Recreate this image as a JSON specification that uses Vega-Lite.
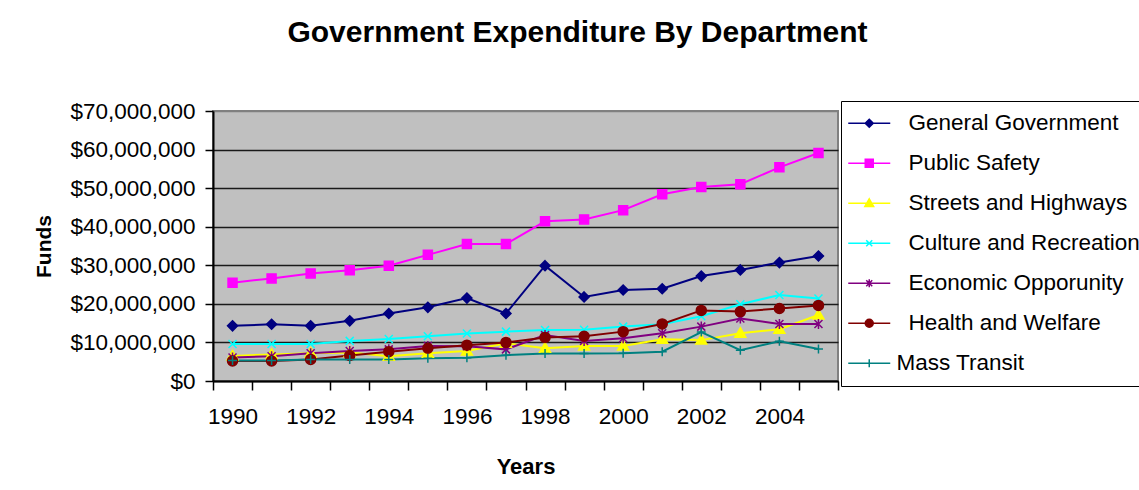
{
  "$schema": "https://vega.github.io/schema/vega-lite/v6.json",
  "width": 625,
  "height": 270,
  "autosize": "none",
  "padding": {"left": 213, "top": 111, "right": 301, "bottom": 109},
  "background": "white",
  "title": {
    "text": "Government Expenditure By Department",
    "font": "Liberation Sans",
    "fontSize": 30,
    "fontWeight": "bold",
    "color": "black",
    "anchor": "middle",
    "frame": "group",
    "dx": 52,
    "baseline": "alphabetic",
    "offset": 28
  },
  "config": {
    "view": {"fill": "#C0C0C0", "stroke": "#808080", "strokeWidth": 2},
    "axis": {"labelFont": "Liberation Sans", "titleFont": "Liberation Sans", "labelColor": "black", "titleColor": "black"}
  },
  "data": {
    "values": [
      {"year": 1990, "series": "General Government", "value": 14300000},
      {"year": 1991, "series": "General Government", "value": 14700000},
      {"year": 1992, "series": "General Government", "value": 14300000},
      {"year": 1993, "series": "General Government", "value": 15600000},
      {"year": 1994, "series": "General Government", "value": 17500000},
      {"year": 1995, "series": "General Government", "value": 19100000},
      {"year": 1996, "series": "General Government", "value": 21500000},
      {"year": 1997, "series": "General Government", "value": 17500000},
      {"year": 1998, "series": "General Government", "value": 29900000},
      {"year": 1999, "series": "General Government", "value": 21800000},
      {"year": 2000, "series": "General Government", "value": 23600000},
      {"year": 2001, "series": "General Government", "value": 23900000},
      {"year": 2002, "series": "General Government", "value": 27200000},
      {"year": 2003, "series": "General Government", "value": 28800000},
      {"year": 2004, "series": "General Government", "value": 30700000},
      {"year": 2005, "series": "General Government", "value": 32400000},
      {"year": 1990, "series": "Public Safety", "value": 25500000},
      {"year": 1991, "series": "Public Safety", "value": 26600000},
      {"year": 1992, "series": "Public Safety", "value": 27900000},
      {"year": 1993, "series": "Public Safety", "value": 28700000},
      {"year": 1994, "series": "Public Safety", "value": 29900000},
      {"year": 1995, "series": "Public Safety", "value": 32700000},
      {"year": 1996, "series": "Public Safety", "value": 35500000},
      {"year": 1997, "series": "Public Safety", "value": 35500000},
      {"year": 1998, "series": "Public Safety", "value": 41400000},
      {"year": 1999, "series": "Public Safety", "value": 41900000},
      {"year": 2000, "series": "Public Safety", "value": 44300000},
      {"year": 2001, "series": "Public Safety", "value": 48400000},
      {"year": 2002, "series": "Public Safety", "value": 50300000},
      {"year": 2003, "series": "Public Safety", "value": 51000000},
      {"year": 2004, "series": "Public Safety", "value": 55400000},
      {"year": 2005, "series": "Public Safety", "value": 59100000},
      {"year": 1990, "series": "Streets and Highways", "value": 6500000},
      {"year": 1991, "series": "Streets and Highways", "value": 6900000},
      {"year": 1992, "series": "Streets and Highways", "value": 7200000},
      {"year": 1993, "series": "Streets and Highways", "value": 7400000},
      {"year": 1994, "series": "Streets and Highways", "value": 6400000},
      {"year": 1995, "series": "Streets and Highways", "value": 7200000},
      {"year": 1996, "series": "Streets and Highways", "value": 7800000},
      {"year": 1997, "series": "Streets and Highways", "value": 9800000},
      {"year": 1998, "series": "Streets and Highways", "value": 8500000},
      {"year": 1999, "series": "Streets and Highways", "value": 9100000},
      {"year": 2000, "series": "Streets and Highways", "value": 9100000},
      {"year": 2001, "series": "Streets and Highways", "value": 10800000},
      {"year": 2002, "series": "Streets and Highways", "value": 10600000},
      {"year": 2003, "series": "Streets and Highways", "value": 12400000},
      {"year": 2004, "series": "Streets and Highways", "value": 13400000},
      {"year": 2005, "series": "Streets and Highways", "value": 17100000},
      {"year": 1990, "series": "Culture and Recreation", "value": 9600000},
      {"year": 1991, "series": "Culture and Recreation", "value": 9600000},
      {"year": 1992, "series": "Culture and Recreation", "value": 9600000},
      {"year": 1993, "series": "Culture and Recreation", "value": 10400000},
      {"year": 1994, "series": "Culture and Recreation", "value": 10900000},
      {"year": 1995, "series": "Culture and Recreation", "value": 11600000},
      {"year": 1996, "series": "Culture and Recreation", "value": 12300000},
      {"year": 1997, "series": "Culture and Recreation", "value": 12800000},
      {"year": 1998, "series": "Culture and Recreation", "value": 13200000},
      {"year": 1999, "series": "Culture and Recreation", "value": 13300000},
      {"year": 2000, "series": "Culture and Recreation", "value": 14100000},
      {"year": 2001, "series": "Culture and Recreation", "value": 14700000},
      {"year": 2002, "series": "Culture and Recreation", "value": 16800000},
      {"year": 2003, "series": "Culture and Recreation", "value": 19900000},
      {"year": 2004, "series": "Culture and Recreation", "value": 22300000},
      {"year": 2005, "series": "Culture and Recreation", "value": 21400000},
      {"year": 1990, "series": "Economic Opporunity", "value": 6100000},
      {"year": 1991, "series": "Economic Opporunity", "value": 6400000},
      {"year": 1992, "series": "Economic Opporunity", "value": 7200000},
      {"year": 1993, "series": "Economic Opporunity", "value": 7800000},
      {"year": 1994, "series": "Economic Opporunity", "value": 8200000},
      {"year": 1995, "series": "Economic Opporunity", "value": 9100000},
      {"year": 1996, "series": "Economic Opporunity", "value": 9000000},
      {"year": 1997, "series": "Economic Opporunity", "value": 8200000},
      {"year": 1998, "series": "Economic Opporunity", "value": 11900000},
      {"year": 1999, "series": "Economic Opporunity", "value": 10400000},
      {"year": 2000, "series": "Economic Opporunity", "value": 11100000},
      {"year": 2001, "series": "Economic Opporunity", "value": 12400000},
      {"year": 2002, "series": "Economic Opporunity", "value": 14100000},
      {"year": 2003, "series": "Economic Opporunity", "value": 16200000},
      {"year": 2004, "series": "Economic Opporunity", "value": 14800000},
      {"year": 2005, "series": "Economic Opporunity", "value": 14800000},
      {"year": 1990, "series": "Health and Welfare", "value": 5200000},
      {"year": 1991, "series": "Health and Welfare", "value": 5200000},
      {"year": 1992, "series": "Health and Welfare", "value": 5600000},
      {"year": 1993, "series": "Health and Welfare", "value": 6600000},
      {"year": 1994, "series": "Health and Welfare", "value": 7600000},
      {"year": 1995, "series": "Health and Welfare", "value": 8500000},
      {"year": 1996, "series": "Health and Welfare", "value": 9300000},
      {"year": 1997, "series": "Health and Welfare", "value": 10000000},
      {"year": 1998, "series": "Health and Welfare", "value": 11300000},
      {"year": 1999, "series": "Health and Welfare", "value": 11600000},
      {"year": 2000, "series": "Health and Welfare", "value": 12800000},
      {"year": 2001, "series": "Health and Welfare", "value": 14800000},
      {"year": 2002, "series": "Health and Welfare", "value": 18300000},
      {"year": 2003, "series": "Health and Welfare", "value": 18000000},
      {"year": 2004, "series": "Health and Welfare", "value": 18800000},
      {"year": 2005, "series": "Health and Welfare", "value": 19600000},
      {"year": 1990, "series": "Mass Transit", "value": 5300000},
      {"year": 1991, "series": "Mass Transit", "value": 5300000},
      {"year": 1992, "series": "Mass Transit", "value": 5600000},
      {"year": 1993, "series": "Mass Transit", "value": 5600000},
      {"year": 1994, "series": "Mass Transit", "value": 5600000},
      {"year": 1995, "series": "Mass Transit", "value": 5900000},
      {"year": 1996, "series": "Mass Transit", "value": 6000000},
      {"year": 1997, "series": "Mass Transit", "value": 6700000},
      {"year": 1998, "series": "Mass Transit", "value": 7100000},
      {"year": 1999, "series": "Mass Transit", "value": 7100000},
      {"year": 2000, "series": "Mass Transit", "value": 7200000},
      {"year": 2001, "series": "Mass Transit", "value": 7600000},
      {"year": 2002, "series": "Mass Transit", "value": 12700000},
      {"year": 2003, "series": "Mass Transit", "value": 8000000},
      {"year": 2004, "series": "Mass Transit", "value": 10300000},
      {"year": 2005, "series": "Mass Transit", "value": 8300000}
    ]
  },
  "encoding": {
    "x": {
      "field": "year",
      "type": "ordinal",
      "scale": {"type": "band", "paddingInner": 0, "paddingOuter": 0},
      "axis": {
        "title": "Years",
        "titleFontSize": 22,
        "titleFontWeight": "bold",
        "titleY": 92,
        "titleBaseline": "alphabetic",
        "labelFontSize": 22.5,
        "labelAngle": 0,
        "labelPadding": 15,
        "labelOverlap": false,
        "labelExpr": "datum.value % 2 == 0 ? datum.label : ''",
        "tickBand": "extent",
        "tickSize": 9,
        "tickColor": "black",
        "tickWidth": 1.5,
        "domainColor": "black",
        "domainWidth": 2,
        "grid": false
      }
    },
    "y": {
      "field": "value",
      "type": "quantitative",
      "scale": {"domain": [0, 70000000], "nice": false},
      "axis": {
        "title": "Funds",
        "titleFontSize": 21,
        "titleFontWeight": "bold",
        "titleAngle": -90,
        "titleX": -169,
        "titleY": 135,
        "titleAlign": "center",
        "titleBaseline": "middle",
        "format": "$,.0f",
        "values": [0, 10000000, 20000000, 30000000, 40000000, 50000000, 60000000, 70000000],
        "labelFontSize": 22.5,
        "labelPadding": 10,
        "tickSize": 8,
        "tickColor": "black",
        "tickWidth": 1.5,
        "domainColor": "black",
        "domainWidth": 2,
        "grid": true,
        "gridColor": {"condition": {"test": "datum.value >= 70000000", "value": "#808080"}, "value": "#1a1a1a"},
        "gridWidth": 1.6
      }
    },
    "color": {
      "field": "series",
      "type": "nominal",
      "scale": {
        "domain": ["General Government", "Public Safety", "Streets and Highways", "Culture and Recreation", "Economic Opporunity", "Health and Welfare", "Mass Transit"],
        "range": ["#000080", "#FF00FF", "#FFFF00", "#00FFFF", "#800080", "#800000", "#008080"]
      },
      "legend": {
        "orient": "none",
        "legendX": 628,
        "legendY": -10,
        "title": null,
        "strokeColor": "black",
        "fillColor": "white",
        "padding": 11,
        "labelFont": "Liberation Sans",
        "labelFontSize": 22.5,
        "labelColor": "black",
        "labelLimit": 400,
        "rowPadding": 17,
        "symbolSize": 64,
        "symbolStrokeWidth": 1.5,
        "labelOffset": 34,
        "encode": {
          "labels": {
            "update": {
              "dx": {"signal": "datum.value === 'Mass Transit' ? -12 : 0"}
            }
          },
          "symbols": {
            "update": {
              "shape": {"signal": "({'General Government':'M-3.75,0H6.75M1.5,-1L2.5,0L1.5,1L0.5,0Z','Public Safety':'M-3.75,0H6.75M0.5,-1H2.5V1H0.5Z','Streets and Highways':'M-3.75,0H6.75M1.5,-1.1L2.6,0.8H0.4Z','Culture and Recreation':'M-3.75,0H6.75M0.75,-0.75L2.25,0.75M0.75,0.75L2.25,-0.75','Economic Opporunity':'M-3.75,0H6.75M0.75,-0.75L2.25,0.75M0.75,0.75L2.25,-0.75M1.5,-1V1','Health and Welfare':'M-3.75,0H6.75M2.5,0A1,1,0,1,1,0.5,0A1,1,0,1,1,2.5,0Z','Mass Transit':'M-3.75,0H6.75M1.5,-1V1'})[datum.value]"},
              "fill": {"scale": "color", "field": "value"},
              "stroke": {"scale": "color", "field": "value"},
              "strokeWidth": {"value": 1.5},
              "opacity": {"value": 1},
              "fillOpacity": {"value": 1}
            }
          }
        }
      }
    }
  },
  "layer": [
    {"mark": {"type": "line", "strokeWidth": 2}},
    {"transform": [{"filter": "datum.series == 'General Government'"}], "mark": {"type": "point", "filled": true, "size": 100, "strokeWidth": 1.5, "opacity": 1, "shape": "M0,-1L1,0L0,1L-1,0Z", "stroke": "#000080"}},
    {"transform": [{"filter": "datum.series == 'Public Safety'"}], "mark": {"type": "point", "filled": true, "size": 100, "strokeWidth": 1.5, "opacity": 1, "shape": "M-0.9,-0.9H0.9V0.9H-0.9Z", "stroke": "#FF00FF"}},
    {"transform": [{"filter": "datum.series == 'Streets and Highways'"}], "mark": {"type": "point", "filled": true, "size": 100, "strokeWidth": 1.5, "opacity": 1, "shape": "M0,-1.1L1.1,0.8H-1.1Z", "stroke": "#FFFF00"}},
    {"transform": [{"filter": "datum.series == 'Culture and Recreation'"}], "mark": {"type": "point", "filled": true, "size": 100, "strokeWidth": 1.5, "opacity": 1, "shape": "M-0.8,-0.8L0.8,0.8M-0.8,0.8L0.8,-0.8", "stroke": "#00FFFF"}},
    {"transform": [{"filter": "datum.series == 'Economic Opporunity'"}], "mark": {"type": "point", "filled": true, "size": 100, "strokeWidth": 1.5, "opacity": 1, "shape": "M-0.8,-0.8L0.8,0.8M-0.8,0.8L0.8,-0.8M0,-1V1", "stroke": "#800080"}},
    {"transform": [{"filter": "datum.series == 'Health and Welfare'"}], "mark": {"type": "point", "filled": true, "size": 100, "strokeWidth": 1.5, "opacity": 1, "shape": "circle", "stroke": "#800000"}},
    {"transform": [{"filter": "datum.series == 'Mass Transit'"}], "mark": {"type": "point", "filled": true, "size": 100, "strokeWidth": 1.5, "opacity": 1, "shape": "M-0.9,0H0.9M0,-0.9V0.9", "stroke": "#008080"}}
  ]
}
